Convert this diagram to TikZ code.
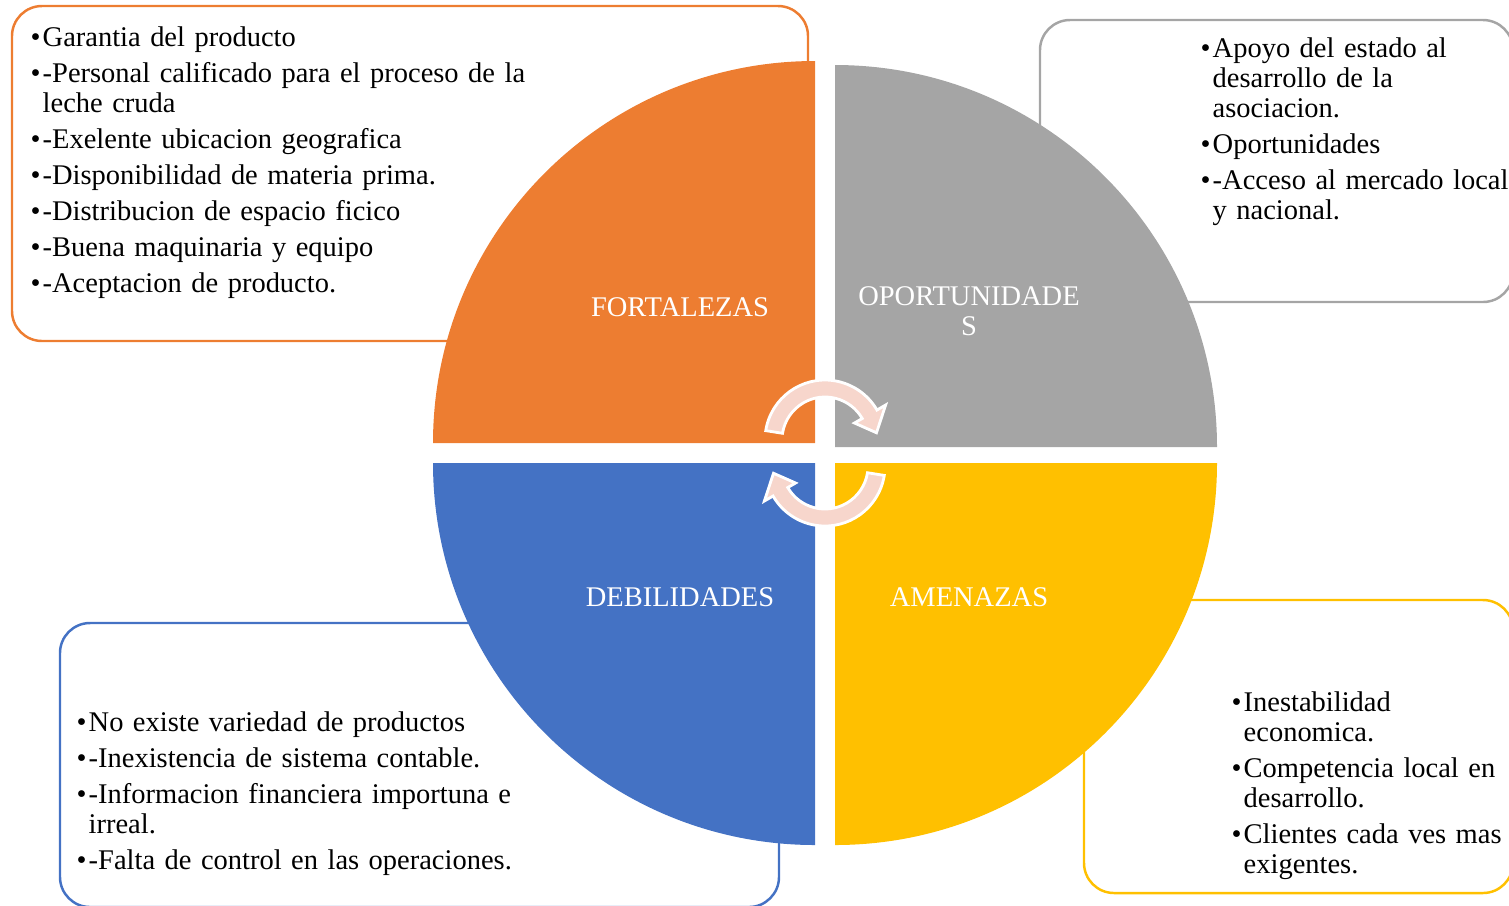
\documentclass[tikz,border=0pt]{standalone}
\usepackage{fontspec}
\setmainfont{Liberation Serif}
\definecolor{fortcol}{HTML}{ED7D31}
\definecolor{oporcol}{HTML}{A5A5A5}
\definecolor{amencol}{HTML}{FFC000}
\definecolor{debicol}{HTML}{4472C4}
\definecolor{arrowcol}{HTML}{F7D6CC}
\newcommand\swotfont{\fontsize{8.1pt}{8.54pt}\selectfont\setlength\parskip{1.7pt}}
\newcommand\bul{\par\hangindent=0.12cm\hangafter=1\noindent\makebox[0.12cm][l]{\textbullet}}
\tikzset{
  swotbox/.style={line width=0.7pt, rounded corners=0.3cm},
  swotlist/.style={anchor=base west, inner sep=0pt, text width=#1, align=left, font=\swotfont},
  quadlabel/.style={white, font=\swotfont, align=center, inner sep=0pt},
  cyclearrow/.style={fill=arrowcol, draw=white, line width=0.8pt}
}

\begin{document}
\begin{tikzpicture}[x=0.01cm, y=-0.01cm]
	   \useasboundingbox (0,0) rectangle (1509,905);
	   % text boxes behind the circle
	   \draw[swotbox, color=fortcol] (12,6) rectangle (808,341);
	   \draw[swotbox, color=oporcol] (1040,20) rectangle (1513,302);
	   \draw[swotbox, color=amencol] (1084,600) rectangle (1513,893);
	   \draw[swotbox, color=debicol] (60,623) rectangle (779,907);
	   % quadrants
	   \fill[fortcol] (815,443) -- (433,443) arc[start angle=180, end angle=270, radius=382] -- cycle;
	   \fill[oporcol] (835,447) -- (835,65) arc[start angle=270, end angle=360, radius=382] -- cycle;
	   \fill[amencol] (835,463) -- (1217,463) arc[start angle=0, end angle=90, radius=382] -- cycle;
	   \fill[debicol] (815,463) -- (815,845) arc[start angle=90, end angle=180, radius=382] -- cycle;
	   \node[quadlabel] (fort) at (680,307) {FORTALEZAS};
	   \node[quadlabel] (opor) at (969,311) {OPORTUNIDADE\\S};
	   \node[quadlabel] (debi) at (680,597) {DEBILIDADES};
	   \node[quadlabel] (amen) at (969,597) {AMENAZAS};
	   % lists (first baseline sits one empty line above the first item)
	   \node[swotlist=5.2cm] (fortlist) at (30,10) {\bul Garantia del producto
	     \bul -Personal calificado para el proceso de la\newline leche cruda
	     \bul -Exelente ubicacion geografica
	     \bul -Disponibilidad de materia prima.
	     \bul -Distribucion de espacio ficico
	     \bul -Buena maquinaria y equipo
	     \bul -Aceptacion de producto.\par};
	   \node[swotlist=3.8cm] (oporlist) at (1200,21) {\bul Apoyo del estado al\newline desarrollo de la\newline asociacion.
	     \bul Oportunidades
	     \bul -Acceso al mercado local\newline y nacional.\par};
	   \node[swotlist=3.2cm] (amenlist) at (1231,675) {\bul Inestabilidad\newline economica.
	     \bul Competencia local en\newline desarrollo.
	     \bul Clientes cada ves mas\newline exigentes.\par};
	   \node[swotlist=4.8cm] (debilist) at (76,695) {\bul No existe variedad de productos
	     \bul -Inexistencia de sistema contable.
	     \bul -Informacion financiera importuna e\newline irreal.
	     \bul -Falta de control en las operaciones.\par};
	   % cycle arrows
	   \coordinate (topc) at (825,440);
	   \coordinate (botc) at (825,466);
	   \draw[cyclearrow] (topc) ++(189:60) arc[start angle=189, end angle=330, radius=60]
	     -- ([shift={(330:70)}]topc) -- ([shift={(352:52)}]topc) -- ([shift={(330:34)}]topc)
	     -- ([shift={(330:43)}]topc) arc[start angle=330, end angle=189, radius=43] -- cycle;
	   \draw[cyclearrow] (botc) ++(9:60) arc[start angle=9, end angle=150, radius=60]
	     -- ([shift={(150:70)}]botc) -- ([shift={(172:52)}]botc) -- ([shift={(150:34)}]botc)
	     -- ([shift={(150:43)}]botc) arc[start angle=150, end angle=9, radius=43] -- cycle;
 \end{tikzpicture}
\end{document}
